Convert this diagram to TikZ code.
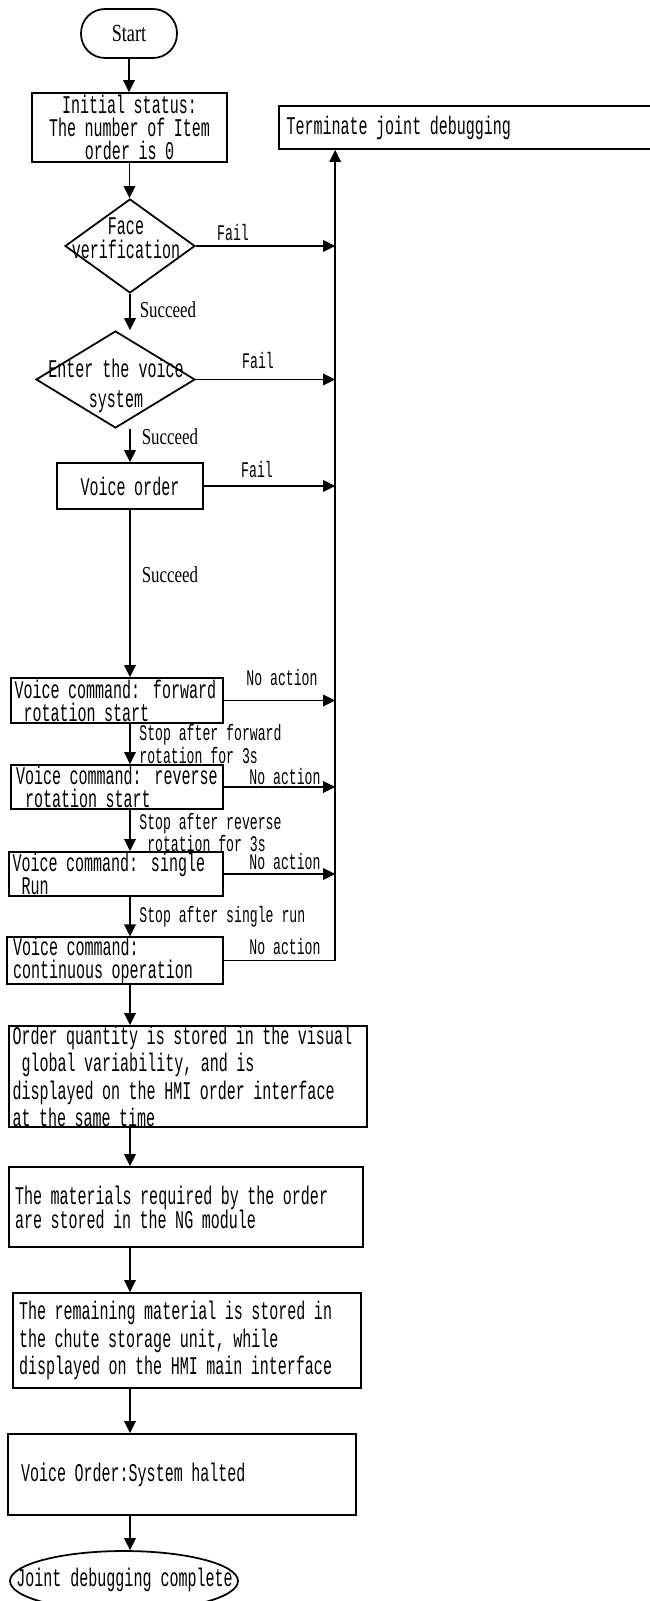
\documentclass[tikz,border=0pt]{standalone}
\usepackage{fontspec}
\setmainfont[FakeStretch=0.59]{Liberation Mono}
\newfontfamily\serifa[FakeStretch=0.74]{Liberation Serif}
\usetikzlibrary{arrows.meta,shapes.geometric}

\begin{document}
\begin{tikzpicture}[x=0.02cm, y=-0.02cm,
  font=\fontsize{14.5}{13}\selectfont,
  caixa/.style={draw, line width=1pt, inner xsep=0.07cm, inner ysep=0pt, align=left},
  losango/.style={draw, diamond, line width=1pt, inner sep=0pt},
  rotulo/.style={font=\fontsize{12.7}{12.6}\selectfont, inner sep=0pt},
  suc/.style={font=\serifa\fontsize{13}{13}\selectfont, inner sep=0pt},
  seta/.style={-{Triangle[length=2.4mm, width=2.3mm]}, line width=0.9pt}]
\useasboundingbox (0,0) rectangle (649,1601);

% main column
\node[draw, line width=1pt, rounded corners=0.48cm, minimum width=1.92cm,
      minimum height=0.98cm, inner sep=0pt] (start) at (129,33.5) {\serifa\fontsize{14}{14}\selectfont Start};
\node[caixa, align=center, minimum width=3.9cm, minimum height=1.38cm, text width=3.76cm]
  (init) at (129.5,127.5) {Initial status:\\The number of Item\\order is 0};
\node[losango, minimum width=2.6cm, minimum height=1.88cm] (face) at (130,246) {};
\node[align=center, inner sep=0pt, font=\fontsize{14.5}{13.5}\selectfont]
  (facetxt) at (126,238) {Face\\verification};
\node[losango, minimum width=3.18cm, minimum height=1.94cm] (enter) at (115.5,379.5) {};
\node[align=center, inner sep=0pt, font=\fontsize{14.5}{17}\selectfont]
  (entertxt) at (116,386) {Enter the voice\\system};
\node[caixa, align=center, minimum width=2.92cm, minimum height=0.92cm, text width=2.78cm]
  (voice) at (130,486) {Voice order};
\node[caixa, minimum width=4.24cm, minimum height=0.9cm, text width=4.1cm]
  (fwd) at (117,700.5) {Voice command: forward\\\phantom{x}rotation start};
\node[caixa, inner xsep=0.1cm, minimum width=4.24cm, minimum height=0.88cm, text width=4.04cm]
  (rev) at (117,787) {Voice command: reverse\\\phantom{x}rotation start};
\node[caixa, minimum width=4.28cm, minimum height=0.88cm, text width=4.14cm]
  (single) at (116,874) {Voice command: single\\\phantom{x}Run};
\node[caixa, inner xsep=0.12cm, minimum width=4.32cm, minimum height=0.9cm, text width=4.08cm]
  (cont) at (115,960.5) {Voice command:\\continuous operation};
\node[caixa, minimum width=7.16cm, minimum height=2.02cm, text width=7.02cm,
      font=\fontsize{14.5}{15.6}\selectfont]
  (qty) at (188,1076.5) {Order quantity is stored in the visual\\\phantom{x}global variability, and is\\displayed on the HMI order interface\\at the same time};
\node[caixa, inner xsep=0.12cm, minimum width=7.08cm, minimum height=1.6cm, text width=6.84cm,
      font=\fontsize{14.5}{13.6}\selectfont]
  (mat) at (186,1207) {The materials required by the order\\are stored in the NG module};
\node[caixa, inner xsep=0.12cm, minimum width=6.96cm, minimum height=1.9cm, text width=6.72cm,
      font=\fontsize{14.5}{15.6}\selectfont]
  (rem) at (187,1340.5) {The remaining material is stored in\\the chute storage unit, while\\displayed on the HMI main interface};
\node[caixa, inner xsep=0.26cm, minimum width=6.96cm, minimum height=1.62cm, text width=6.44cm]
  (halt) at (182,1474.5) {Voice Order:System halted};
\node[draw, ellipse, line width=1pt, minimum width=4.56cm, minimum height=1.2cm, inner sep=0pt]
  (final) at (124,1581) {};
\node[inner sep=0pt] (finaltxt) at (124.5,1580) {Joint debugging complete};

% end box on the right
\node[caixa, inner xsep=0.15cm, minimum width=7.46cm, minimum height=0.86cm, text width=7.16cm]
  (term) at (465.5,127.5) {Terminate joint debugging};
\path (term.south west) ++(57,0) coordinate (rail);

% labels
\node[rotulo] (fail1) at (233,233) {Fail};
\node[rotulo] (fail2) at (258,361) {Fail};
\node[rotulo] (fail3) at (257,470) {Fail};
\node[suc] (suc1) at (168,310) {Succeed};
\node[suc] (suc2) at (170,437) {Succeed};
\node[suc] (suc3) at (170,575) {Succeed};
\node[rotulo] (noact1) at (282,678) {No action};
\node[rotulo] (noact2) at (285,777) {No action};
\node[rotulo] (noact3) at (285,862) {No action};
\node[rotulo] (noact4) at (285,947) {No action};
\node[rotulo, anchor=west, align=left] (stop1) at (139,744) {Stop after forward\\rotation for 3s};
\node[rotulo, anchor=west, align=left] (stop2) at (139,832.5) {Stop after reverse\\\phantom{x}rotation for 3s};
\node[rotulo, anchor=west] (stop3) at (139,917) {Stop after single run};

% arrows down
\draw[seta] (start.south) -- (start.south |- init.north);
\draw[seta] (init.south) -- (init.south |- face.north);
\draw[seta] (face.south) -- (face.south |- enter.north);
\draw[seta] (enter.south -| voice) -- (voice.north);
\draw[seta] (voice.south) -- (voice.south |- fwd.north);
\draw[seta] (fwd.south -| voice) -- (rev.north -| voice);
\draw[seta] (rev.south -| voice) -- (single.north -| voice);
\draw[seta] (single.south -| voice) -- (cont.north -| voice);
\draw[seta] (cont.south -| voice) -- (qty.north -| voice);
\draw[seta] (qty.south -| voice) -- (mat.north -| voice);
\draw[seta] (mat.south -| voice) -- (rem.north -| voice);
\draw[seta] (rem.south -| voice) -- (halt.north -| voice);
\draw[seta] (halt.south -| voice) -- (final.north -| voice);

% arrows to the right
\draw[seta] (face.east) -- (face.east -| rail);
\draw[seta] (enter.east) -- (enter.east -| rail);
\draw[seta] (voice.east) -- (voice.east -| rail);
\draw[seta] (fwd.east) -- (fwd.east -| rail);
\draw[seta] (rev.east) -- (rev.east -| rail);
\draw[seta] (single.east) -- (single.east -| rail);
\draw[seta] (cont.east) -- (cont.east -| rail) -- (rail);
\end{tikzpicture}
\end{document}
